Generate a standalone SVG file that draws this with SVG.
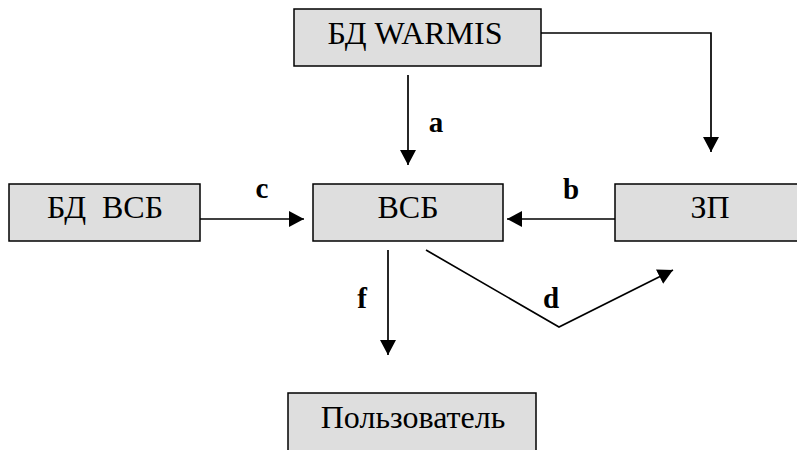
<svg xmlns="http://www.w3.org/2000/svg" width="797" height="450" viewBox="0 0 797 450">
<style>
.box{fill:#dedede;stroke:#000;stroke-width:1.5}
.t{font-family:"Liberation Serif","Times New Roman",serif;font-size:32px;fill:#000;text-anchor:middle}
.lbl{font-family:"Liberation Serif","Times New Roman",serif;font-size:29px;font-weight:bold;fill:#000;text-anchor:middle}
.ln{fill:none;stroke:#000;stroke-width:1.7}
</style>
<defs>
<marker id="ah" markerUnits="userSpaceOnUse" markerWidth="16" markerHeight="16" refX="15" refY="8" orient="auto" viewBox="0 0 16 16">
<path d="M0,0 L15,8 L0,16 z" fill="#000"/>
</marker>
</defs>
<rect width="797" height="450" fill="#fff"/>
<g id="warmis"><rect class="box" x="294" y="9" width="247" height="57"/><text class="t" x="415" y="44">БД WARMIS</text></g>
<g id="bdvsb"><rect class="box" x="9" y="184" width="191" height="57"/><text class="t" x="105" y="218" xml:space="preserve">БД  ВСБ</text></g>
<g id="vsb"><rect class="box" x="313" y="184" width="190" height="57"/><text class="t" x="408" y="218">ВСБ</text></g>
<g id="zp"><rect class="box" x="615" y="184" width="190" height="57"/><text class="t" x="710" y="218">ЗП</text></g>
<g id="user"><rect class="box" x="288" y="393" width="248" height="60"/><text class="t" x="413" y="428">Пользователь</text></g>
<g id="connectors">
<polyline class="ln" points="541,33 711,33 711,152" marker-end="url(#ah)"/>
<line class="ln" x1="408" y1="75" x2="408" y2="165" marker-end="url(#ah)"/>
<line class="ln" x1="200" y1="219" x2="304" y2="219" marker-end="url(#ah)"/>
<line class="ln" x1="615" y1="219" x2="507" y2="219" marker-end="url(#ah)"/>
<line class="ln" x1="388" y1="250" x2="388" y2="355" marker-end="url(#ah)"/>
<polyline class="ln" points="426,250 559,327 673,270" marker-end="url(#ah)"/>
<text class="lbl" x="436" y="132">a</text>
<text class="lbl" x="571" y="199">b</text>
<text class="lbl" x="262" y="198">c</text>
<text class="lbl" x="551" y="308">d</text>
<text class="lbl" x="362" y="308">f</text>
</g>
</svg>
